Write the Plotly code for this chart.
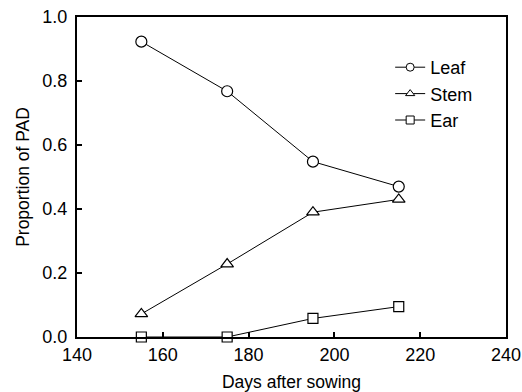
import plotly.graph_objects as go

days = [155, 175, 195, 215]
leaf = [0.923, 0.768, 0.548, 0.47]
stem = [0.072, 0.228, 0.39, 0.43]
ear = [0.0, 0.0, 0.058, 0.095]
x_ticks = [140, 160, 180, 200, 220, 240]
y_ticks = [0.0, 0.2, 0.4, 0.6, 0.8, 1.0]
series = [("Leaf", leaf, "circle"), ("Stem", stem, "triangle-up"), ("Ear", ear, "square")]

fig = go.Figure()
for name, vals, sym in series:
    fig.add_trace(go.Scatter(
        x=days, y=vals, name=name, mode="lines+markers", showlegend=False,
        line=dict(color="black", width=1),
        marker=dict(symbol=sym, size=11 if sym != "square" else 10, color="white",
                    line=dict(width=1.2, color="black")),
        cliponaxis=False,
    ))
for name, vals, sym in series:
    fig.add_trace(go.Scatter(
        x=[None], y=[None], name=name, mode="lines+markers",
        line=dict(color="black", width=1),
        marker=dict(symbol=sym, size=8, color="white", line=dict(width=1, color="black")),
    ))

font = dict(family="Liberation Sans, Arial, sans-serif", color="black")
fig.update_layout(
    width=522, height=392,
    margin=dict(l=77, r=16, t=17, b=55),
    paper_bgcolor="white", plot_bgcolor="white",
    font=dict(size=17, **font),
    showlegend=True,
    legend=dict(x=0.73, y=0.9, xanchor="left", yanchor="top",
                bgcolor="rgba(0,0,0,0)", font=dict(size=18, **font),
                itemwidth=30, tracegroupgap=0),
    xaxis=dict(range=[140, 240], tickvals=x_ticks, ticktext=[str(v) for v in x_ticks],
               ticks="inside", ticklen=5, tickwidth=1.5, tickcolor="black",
               showline=True, linecolor="black", linewidth=2, mirror=True,
               showgrid=False, zeroline=False, tickfont=dict(size=18, **font),
               automargin=False,
               title=dict(text="Days after sowing", font=dict(size=17.5, **font), standoff=14)),
    yaxis=dict(range=[0, 1.0], tickvals=y_ticks, ticktext=[f"{v:.1f}" for v in y_ticks],
               ticks="inside", ticklen=5, tickwidth=1.5, tickcolor="black",
               showline=True, linecolor="black", linewidth=2, mirror=True,
               showgrid=False, zeroline=False, tickfont=dict(size=18, **font),
               ticklabelstandoff=4, automargin=False,
               title=dict(text="Proportion of PAD", font=dict(size=17.5, **font), standoff=8)),
)
fig.write_html("out.html", config={"displayModeBar": False},
               post_script="document.body.style.margin='0';")
